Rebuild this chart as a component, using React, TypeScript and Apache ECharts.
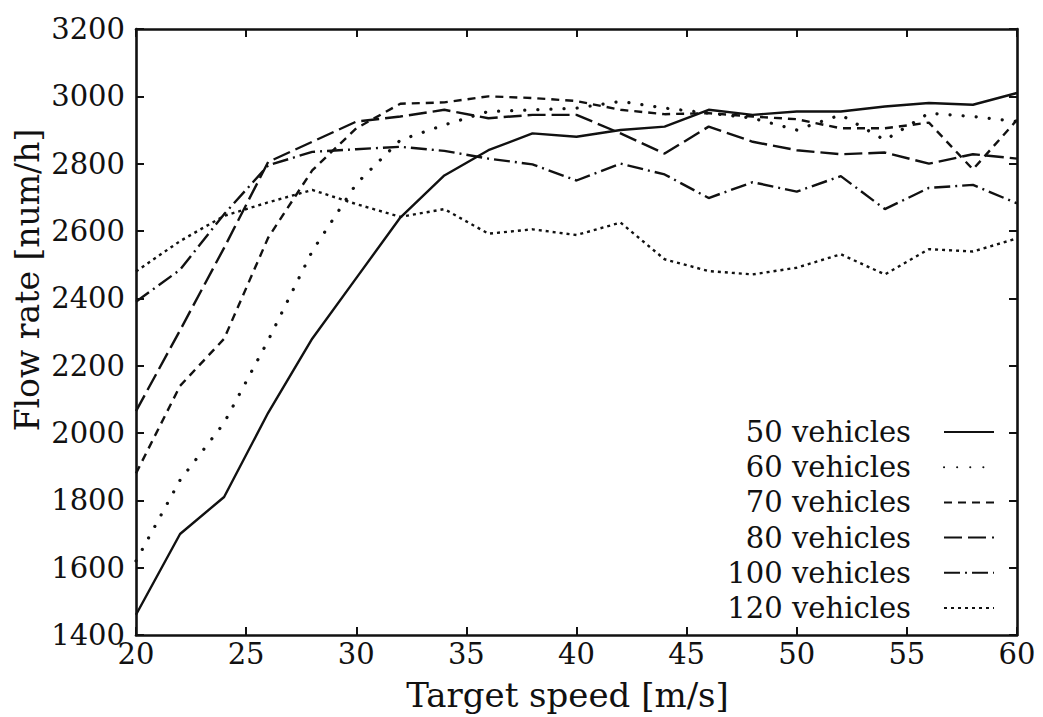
import React, { useEffect, useRef } from "react";
import * as echarts from "echarts";

const speeds = [20, 22, 24, 26, 28, 30, 32, 34, 36, 38, 40, 42, 44, 46, 48, 50, 52, 54, 56, 58, 60];
const seriesNames = ["50 vehicles", "60 vehicles", "70 vehicles", "80 vehicles", "100 vehicles", "120 vehicles"];
const flow50 = [1460, 1700, 1810, 2060, 2280, 2460, 2640, 2765, 2840, 2890, 2880, 2900, 2910, 2960, 2945, 2955, 2955, 2970, 2980, 2975, 3010];
const flow60 = [1620, 1860, 2030, 2275, 2540, 2740, 2870, 2915, 2955, 2960, 2965, 2985, 2965, 2950, 2935, 2900, 2945, 2870, 2950, 2940, 2925];
const flow70 = [1880, 2140, 2280, 2580, 2780, 2905, 2978, 2982, 3000, 2995, 2986, 2960, 2947, 2950, 2940, 2932, 2905, 2905, 2922, 2783, 2930];
const flow80 = [2065, 2305, 2550, 2805, 2865, 2925, 2940, 2960, 2935, 2945, 2945, 2890, 2830, 2910, 2865, 2840, 2828, 2833, 2800, 2828, 2815];
const flow100 = [2390, 2485, 2650, 2795, 2835, 2843, 2850, 2838, 2815, 2798, 2750, 2800, 2768, 2698, 2745, 2717, 2763, 2665, 2728, 2737, 2682];
const flow120 = [2480, 2570, 2645, 2685, 2722, 2680, 2642, 2665, 2592, 2605, 2588, 2625, 2516, 2481, 2471, 2491, 2531, 2471, 2546, 2539, 2578];
const allFlows = [flow50, flow60, flow70, flow80, flow100, flow120];
const dashPatterns: any[] = ["solid", [0.1, 13], [8, 6], [18, 6], [16, 5, 2, 5], [3, 4]];
const dashCaps = ["butt", "round", "butt", "butt", "butt", "butt"];

const FONT = "'DejaVu Serif', 'Liberation Serif', serif";
const INK = "#111111";

export default function App() {
  const ref = useRef<HTMLDivElement>(null);
  useEffect(() => {
    if (!ref.current) return;
    const chart = echarts.init(ref.current, undefined, { renderer: "svg" });
    const axisLine = { show: true, lineStyle: { color: INK, width: 2.6 } };
    const tick = { show: true, inside: true, length: 8, lineStyle: { color: INK, width: 2 } };
    const series = seriesNames.map((name, i) => ({
      name,
      type: "line",
      xAxisIndex: 0,
      yAxisIndex: 0,
      symbol: "none",
      data: speeds.map((s, j) => [s, allFlows[i][j]]),
      lineStyle: {
        color: INK,
        width: i === 1 ? 3.2 : 2.4,
        type: dashPatterns[i],
        cap: dashCaps[i],
      },
      itemStyle: { color: INK },
    }));
    chart.setOption({
      animation: false,
      backgroundColor: "#ffffff",
      grid: { left: 136, right: 26, top: 29, bottom: 82 },
      xAxis: [
        {
          type: "value", min: 20, max: 60, interval: 5, position: "bottom",
          axisLine, axisTick: tick, splitLine: { show: false },
          axisLabel: { color: INK, fontFamily: FONT, fontSize: 29, margin: 4 },
          name: "Target speed [m/s]", nameLocation: "middle", nameGap: 43,
          nameTextStyle: { color: INK, fontFamily: FONT, fontSize: 34, padding: [0, 18, 0, 0] },
        },
        {
          type: "value", min: 20, max: 60, interval: 5, position: "top",
          axisLine, axisTick: tick, splitLine: { show: false }, axisLabel: { show: false },
        },
      ],
      yAxis: [
        {
          type: "value", min: 1400, max: 3200, interval: 200, position: "left",
          axisLine, axisTick: tick, splitLine: { show: false },
          axisLabel: { color: INK, fontFamily: FONT, fontSize: 29, margin: 11, formatter: (v: number) => String(v) },
        },
        {
          type: "value", min: 1400, max: 3200, interval: 200, position: "right",
          axisLine, axisTick: tick, splitLine: { show: false }, axisLabel: { show: false },
        },
      ],
      legend: {
        orient: "vertical", right: 48, top: 417, align: "right", padding: 0,
        itemWidth: 50, itemHeight: 14, itemGap: 5.2,
        itemStyle: { color: "rgba(0,0,0,0)", borderColor: "rgba(0,0,0,0)", borderWidth: 0, opacity: 0 },
        textStyle: { color: INK, fontFamily: FONT, fontSize: 29, lineHeight: 30, padding: [0, 28, 0, 0] },
        data: seriesNames,
      },
      graphic: [
        {
          type: "text", x: 27, y: 280, rotation: Math.PI / 2,
          style: { text: "Flow rate [num/h]", fill: INK, font: `33px ${FONT}`, align: "center", verticalAlign: "middle" },
        },
      ],
      series,
    });
    return () => chart.dispose();
  }, []);
  return <div ref={ref} style={{ position: "fixed", left: 0, top: 0, width: 1043, height: 717 }} />;
}
